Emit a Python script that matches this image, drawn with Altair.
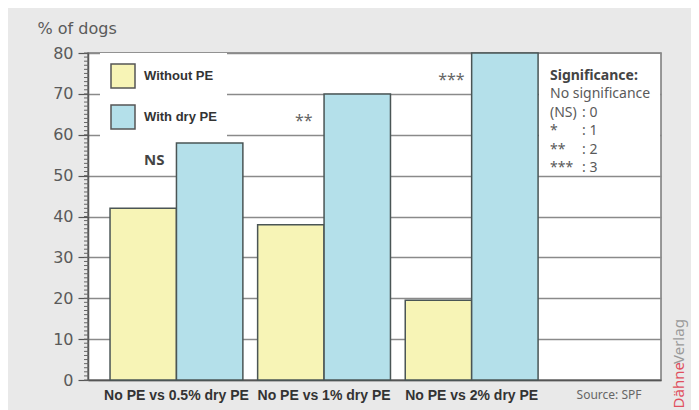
import altair as alt
import pandas as pd

# ---- data ----
comparisons = ["No PE vs 0.5% dry PE", "No PE vs 1% dry PE", "No PE vs 2% dry PE"]
series = ["Without PE", "With dry PE"]
without_pe = [42, 38, 19.5]
with_dry_pe = [58, 70, 80]
significance = ["NS", "**", "***"]
sig_symbols = ["(NS)", "*", "**", "***"]
sig_levels = [": 0", ": 1", ": 2", ": 3"]
y_major = [0, 10, 20, 30, 40, 50, 60, 70, 80]
y_minor = list(range(0, 81))

rows = []
for c, a, b in zip(comparisons, without_pe, with_dry_pe):
    rows.append({"comparison": c, "series": series[0], "value": a})
    rows.append({"comparison": c, "series": series[1], "value": b})
bars_df = pd.DataFrame(rows)
sig_df = pd.DataFrame({"comparison": comparisons, "with_dry": with_dry_pe,
                       "sig": significance, "series": series[0]})
minor_df = pd.DataFrame({"value": y_minor})
one = pd.DataFrame({"k": [0]})

BOLD = "Liberation Sans, Arial, sans-serif"
SANS = "Noto Sans, DejaVu Sans, sans-serif"
AXF = "DejaVu Sans, sans-serif"
YELLOW = "#f7f4b6"
BLUE = "#b4e0ea"

x_enc = alt.X(
    "comparison:N", sort=comparisons, title=None,
    scale=alt.Scale(paddingInner=0.1, paddingOuter=0.491, align=0.152),
    axis=alt.Axis(labelFont=BOLD, labelFontWeight="bold", labelFontSize=14,
                  labelColor="#333", labelAngle=0, ticks=False, labelPadding=8,
                  domainColor="#555", domainWidth=1.5, labelLimit=220),
)
y_scale = alt.Scale(domain=[0, 80], nice=False)
y_axis = alt.Axis(
    values=y_major, labelOverlap=False,
    grid=True, gridColor="#8a8a8a", gridWidth=1.4,
    tickSize=10, tickColor="#555", tickWidth=1.2, domainColor="#555", domainWidth=1.5,
    labelFont=AXF, labelFontSize=16, labelColor="#5a5a5a", labelPadding=5,
    titleFont=AXF, titleFontSize=16, titleFontWeight="normal", titleColor="#5a5a5a",
    titleAngle=0, titleAlign="left", titleBaseline="middle", titleX=-51, titleY=-25,
)

bars = alt.Chart(bars_df).mark_bar(stroke="#4a5555", strokeWidth=1.5).encode(
    x=x_enc,
    xOffset=alt.XOffset("series:N", sort=series,
                        scale=alt.Scale(paddingInner=0, paddingOuter=0)),
    y=alt.Y("value:Q", scale=y_scale, title="% of dogs", axis=y_axis),
    fill=alt.Fill("series:N", sort=series,
                  scale=alt.Scale(domain=series, range=[YELLOW, BLUE]),
                  legend=alt.Legend(
                      title=None, orient="none", legendX=12, legendY=0,
                      fillColor="white", padding=10, symbolType="square",
                      symbolSize=576, symbolStrokeColor="#555", symbolStrokeWidth=1.5,
                      symbolOpacity=1, rowPadding=11, labelOffset=8,
                      labelFont=BOLD, labelFontWeight="bold", labelFontSize=13,
                      labelColor="#333")),
)

minor_ticks = alt.Chart(minor_df).mark_rule(color="#666", strokeWidth=1).encode(
    y=alt.Y("value:Q", scale=y_scale, title="% of dogs"),
    x=alt.value(-4), x2=alt.value(1),
)

ns_text = alt.Chart(sig_df).transform_filter("datum.sig == 'NS'").mark_text(
    font=SANS, fontSize=15, fontWeight="bold", color="#444", dy=17, dx=11,
    baseline="middle").encode(
    x=alt.X("comparison:N", sort=comparisons),
    xOffset=alt.XOffset("series:N", sort=series),
    y=alt.Y("with_dry:Q", scale=y_scale),
    text="sig:N",
)
star_text = alt.Chart(sig_df).transform_filter("datum.sig != 'NS'").mark_text(
    font=SANS, fontSize=16, color="#666", dy=27, dx=13, baseline="middle").encode(
    x=alt.X("comparison:N", sort=comparisons),
    xOffset=alt.XOffset("series:N", sort=series),
    y=alt.Y("with_dry:Q", scale=y_scale),
    text="sig:N",
)

sig_box = alt.Chart(one).mark_rect(fill="white").encode(
    x=alt.value(451), x2=alt.value(572), y=alt.value(1), y2=alt.value(121))
sig_title = alt.Chart(one).mark_text(
    text="Significance:", font=SANS, fontSize=14, fontWeight="bold", color="#444",
    align="left", baseline="middle").encode(x=alt.value(462), y=alt.value(23))
sig_line = alt.Chart(one).mark_text(
    text="No significance", font=SANS, fontSize=14, color="#5a5a5a",
    align="left", baseline="middle").encode(x=alt.value(462), y=alt.value(41))
sig_sym = alt.Chart(one).mark_text(
    text=sig_symbols, font=SANS, fontSize=14, color="#5a5a5a", lineHeight=18.4,
    align="left", baseline="alphabetic").encode(x=alt.value(462), y=alt.value(64))
sig_lvl = alt.Chart(one).mark_text(
    text=sig_levels, font=SANS, fontSize=14, color="#5a5a5a", lineHeight=18.4,
    align="left", baseline="alphabetic").encode(x=alt.value(494), y=alt.value(64))

source = alt.Chart(one).mark_text(
    text="Source: SPF", font=SANS, fontSize=12, color="#666",
    align="center", baseline="middle").encode(x=alt.value(521), y=alt.value(342))
dahne = alt.Chart(one).mark_text(
    text="Dähne", font=SANS, fontSize=15, color="#e0505e", angle=270,
    align="right", baseline="middle").encode(x=alt.value(591), y=alt.value(309))
verlag = alt.Chart(one).mark_text(
    text="Verlag", font=SANS, fontSize=15, color="#9a9a9a", angle=270,
    align="left", baseline="middle").encode(x=alt.value(591), y=alt.value(311))

chart = alt.layer(
    bars, minor_ticks, ns_text, star_text, sig_box, sig_title, sig_line, sig_sym,
    sig_lvl, source, dahne, verlag,
).properties(
    width=573, height=327,
    autosize=alt.AutoSizeParams(type="none"),
    padding={"left": 80, "top": 45, "right": 30, "bottom": 30},
    background="#e9e9e9",
).configure_view(
    fill="white", stroke="#7a7a7a", strokeWidth=1.5,
)

chart.save("out.html", embed_options={"renderer": "svg", "actions": False})
